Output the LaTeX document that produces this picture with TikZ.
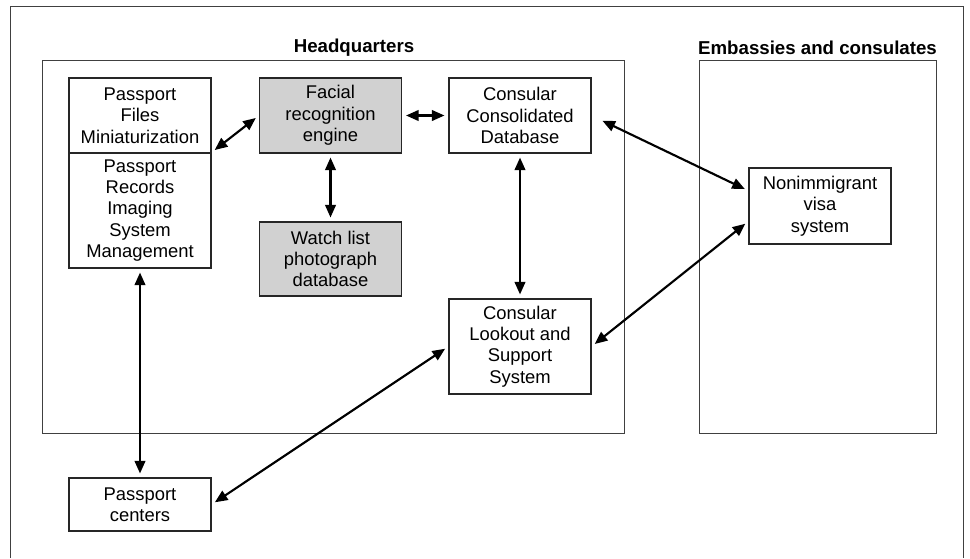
\documentclass[tikz,border=0pt]{standalone}
\usepackage{fontspec}
\setmainfont{Liberation Sans}
\usetikzlibrary{arrows.meta}
\tikzset{
  box/.style={draw=black!85, line width=0.8pt, inner sep=0pt, align=center,
    minimum width=106.5pt, font=\fontsize{13.8}{16}\selectfont},
  grey box/.style={box, fill=black!18},
  link/.style={{Triangle[length=9.5pt,width=8pt]}-{Triangle[length=9.5pt,width=8pt]},
    line width=1.6pt, shorten <=3pt, shorten >=3pt},
  region/.style={draw=black!75, line width=0.7pt},
  title/.style={font=\bfseries\fontsize{14}{16}\selectfont}
}

\begin{document}
\begin{tikzpicture}[x=0.75pt, y=-0.75pt]
    \useasboundingbox (0,0) rectangle (970,558);
    % Frame
    \draw [region] (10,558) -- (10,6) -- (963,6) -- (963,558);
    % Regions
    \draw [region] (42,60) rectangle (624,433);
    \draw [region] (699,60) rectangle (936,433);
    \node [title] (hqtitle) at (354,48) {Headquarters};
    \node [title] (embtitle) at (817.5,48) {Embassies and consulates};

    % Systems
    \node [box, minimum height=56.25pt] (pfm) at (140,115.5) {Passport\\Files\\Miniaturization};
    \node [box, minimum height=86.25pt] (pris) at (140,210.5) {Passport\\Records\\Imaging\\System\\Management};
    \node [grey box, minimum height=56.25pt] (facial) at (330.5,115.5) {Facial\\recognition\\engine};
    \node [grey box, minimum height=55.5pt] (watch) at (330.5,259) {Watch list\\photograph\\database};
    \node [box, minimum height=56.25pt] (ccd) at (520,115.5) {Consular\\Consolidated\\Database};
    \node [box, minimum height=71.25pt] (clss) at (520,346.5) {Consular\\Lookout and\\Support\\System};
    \node [box, minimum height=57pt] (niv) at (820,206) {Nonimmigrant\\visa\\system};
    \node [box, minimum height=39.75pt] (pc) at (140,504.5) {Passport\\centers};

    % Links
    \draw [link] (pris.north east) -- (facial.west);
    \draw [link] (facial.east) -- (ccd.west);
    \draw [link] (facial.south) -- (watch.north);
    \draw [link] (pris.south) -- (pc.north);
    \draw [link] (ccd.south) -- (clss.north);
    \draw [link, shorten <=9pt] (ccd.east) -- (niv.168);
    \draw [link] (clss.east) -- (niv.192);
    \draw [link] (pc.east) -- (clss.west);
\end{tikzpicture}
\end{document}
